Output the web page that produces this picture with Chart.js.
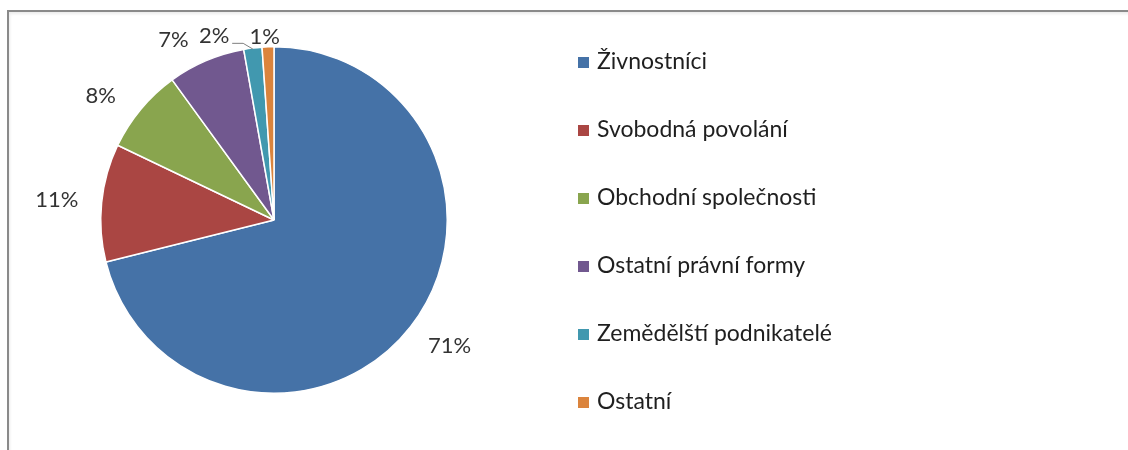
<!DOCTYPE html>
<html>
<head>
<meta charset="utf-8">
<script src="https://cdn.jsdelivr.net/npm/chart.js@4.4.1/dist/chart.umd.min.js"></script>
<style>
  html, body { margin: 0; padding: 0; background: #fff; }
  #wrap { position: relative; width: 1128px; height: 450px; overflow: hidden; }
  #frame {
    position: absolute; left: 7px; top: 10px; right: -4px; bottom: -4px;
    border-left: 2px solid #8a8a8a; border-top: 2px solid #8a8a8a;
    box-shadow: inset 1px 2px 3px rgba(0,0,0,0.08);
  }
  canvas { position: absolute; left: 0; top: 0; }
</style>
</head>
<body>
<div id="wrap">
  <div id="frame"></div>
  <canvas id="myChart" width="1128" height="450"></canvas>
</div>
<script>
// data
const kategorie = ['Živnostníci', 'Svobodná povolání', 'Obchodní společnosti', 'Ostatní právní formy', 'Zemědělští podnikatelé', 'Ostatní'];
const podily = [71.1, 11.0, 7.9, 7.2, 1.7, 1.1];
const popisky = ['71%', '11%', '8%', '7%', '2%', '1%'];
const barvy = ['#4572A7', '#AA4643', '#89A54E', '#71588F', '#4198AF', '#DB843D'];

const FONT = 'Lato, "Open Sans", sans-serif';

// posun popisku od stredu vysece (Excel best fit)
const posunPopisku = [[9, -4], [-7, 1], [-11, 11], [-18, 14], [-34, 26], [-2, 28]];

// procenta kolem kolace
const popiskyPlugin = {
    id: 'popisky',
    afterDatasetsDraw(chart) {
        const ctx = chart.ctx;
        const meta = chart.getDatasetMeta(0);
        ctx.save();
        ctx.font = '22px ' + FONT;
        ctx.fillStyle = '#333333';
        ctx.textAlign = 'center';
        ctx.textBaseline = 'middle';
        meta.data.forEach((arc, i) => {
            const p = arc.getProps(['x', 'y', 'startAngle', 'endAngle', 'outerRadius'], true);
            const mid = (p.startAngle + p.endAngle) / 2;
            const R = p.outerRadius + 38;
            const lx = p.x + Math.cos(mid) * R + posunPopisku[i][0];
            const ly = p.y + Math.sin(mid) * R + posunPopisku[i][1];
            ctx.fillText(popisky[i], lx, ly);
            // vodici cara u 2%
            if (i === 4) {
                ctx.strokeStyle = '#7f7f7f';
                ctx.lineWidth = 1;
                ctx.beginPath();
                ctx.moveTo(lx + 18, ly + 7);
                ctx.lineTo(lx + 29, ly + 7);
                ctx.lineTo(p.x + Math.cos(mid) * p.outerRadius, p.y + Math.sin(mid) * p.outerRadius + 1);
                ctx.stroke();
            }
        });
        ctx.restore();
    }
};

// legenda vpravo
const legendaPlugin = {
    id: 'legenda',
    afterDraw(chart) {
        const ctx = chart.ctx;
        const ds = chart.data.datasets[0];
        ctx.save();
        ctx.font = '23px ' + FONT;
        ctx.textAlign = 'left';
        ctx.textBaseline = 'middle';
        chart.data.labels.forEach((label, i) => {
            const y = 62 + i * 68;
            ctx.fillStyle = ds.backgroundColor[i];
            ctx.fillRect(578, y - 5, 11, 11);
            ctx.fillStyle = '#1f1f1f';
            ctx.fillText(label, 597, y);
        });
        ctx.restore();
    }
};

const ctx = document.getElementById('myChart').getContext('2d');
new Chart(ctx, {
    type: 'pie',
    data: {
        labels: kategorie,
        datasets: [{
            data: podily,
            backgroundColor: barvy,
            borderColor: '#ffffff',
            borderWidth: 1.5
        }]
    },
    options: {
        responsive: false,
        animation: false,
        layout: {
            padding: { left: 100, right: 680, top: 46, bottom: 56 }
        },
        plugins: {
            legend: { display: false },
            tooltip: { enabled: false }
        }
    },
    plugins: [popiskyPlugin, legendaPlugin]
});
</script>
</body>
</html>
